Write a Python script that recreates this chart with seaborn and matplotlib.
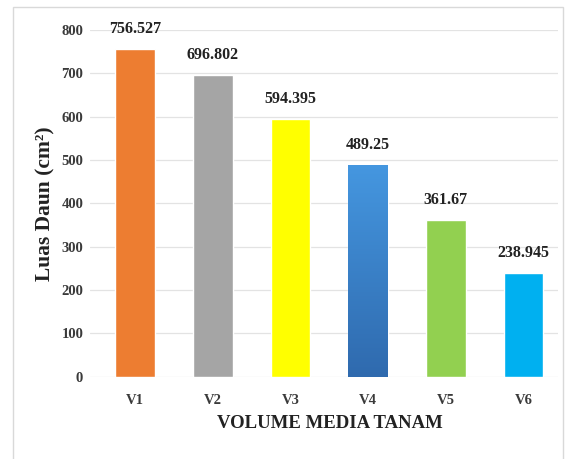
import matplotlib
matplotlib.use("Agg")
import matplotlib.pyplot as plt
import matplotlib.patches as mpatches
import numpy as np
import pandas as pd
import seaborn as sns

categories = ["V1", "V2", "V3", "V4", "V5", "V6"]
luas_daun = [756.527, 696.802, 594.395, 489.25, 361.67, 238.945]
value_labels = ["756.527", "696.802", "594.395", "489.25", "361.67", "238.945"]
bar_colors = ["#ED7D31", "#A5A5A5", "#FFFF00", "#3F86D2", "#92D050", "#00B0F0"]
y_ticks = [0, 100, 200, 300, 400, 500, 600, 700, 800]

sns.set_theme(style="white")
plt.rcParams["font.family"] = ["Liberation Serif", "DejaVu Serif"]

df = pd.DataFrame({"volume": categories, "luas": luas_daun})

fig = plt.figure(figsize=(5.78, 4.59), dpi=100)
ax = fig.add_axes([0.156, 0.179, 0.809, 0.756])

sns.barplot(data=df, x="volume", y="luas", hue="volume", palette=bar_colors,
            order=categories, hue_order=categories, legend=False,
            width=0.51, saturation=1.0, ax=ax, zorder=3)

# vertical gradient for the V4 bar
for patch, cat in zip(ax.patches, categories):
    if cat == "V4":
        x0, y0 = patch.get_x(), patch.get_y()
        w, h = patch.get_width(), patch.get_height()
        grad = np.linspace(0, 1, 256).reshape(-1, 1)
        cmap = matplotlib.colors.LinearSegmentedColormap.from_list(
            "v4", ["#2F6AAE", "#4597E0"])
        im = ax.imshow(grad, extent=[x0, x0 + w, y0, y0 + h], origin="lower",
                       cmap=cmap, aspect="auto", zorder=3.5)
        im.set_clip_path(patch)

ax.set_xlim(-0.58, 5.44)
ax.set_ylim(0, 800)
ax.set_yticks(y_ticks)
ax.yaxis.grid(True, color="#E3E3E3", linewidth=0.9, zorder=0)
ax.xaxis.grid(False)
for s in ax.spines.values():
    s.set_visible(False)
ax.tick_params(axis="x", length=0, labelsize=10.5, pad=12)
ax.tick_params(axis="y", length=0, labelsize=10.5, pad=5)
for lab in ax.get_xticklabels() + ax.get_yticklabels():
    lab.set_fontweight("bold")
    lab.set_color("#3a3a3a")

for i, (v, t) in enumerate(zip(luas_daun, value_labels)):
    ax.text(i, v + 27, t, ha="center", va="bottom", fontsize=11.5,
            fontweight="bold", color="#222222", clip_on=False, zorder=5)

ax.set_xlabel("VOLUME MEDIA TANAM", fontsize=13.5, fontweight="bold",
              color="#222222", labelpad=6)
ax.xaxis.label.set_x(0.513)
ax.set_ylabel("Luas Daun (cm²)", fontsize=15.5, fontweight="bold",
              color="#222222", labelpad=4)

# outer chart frame
frame = mpatches.Rectangle((13 / 578, -0.01), 550 / 578, (459 - 7) / 459 + 0.01,
                           transform=fig.transFigure, fill=False,
                           edgecolor="#D9D9D9", linewidth=1.0)
fig.patches.append(frame)

fig.savefig("out.png", dpi=100)
